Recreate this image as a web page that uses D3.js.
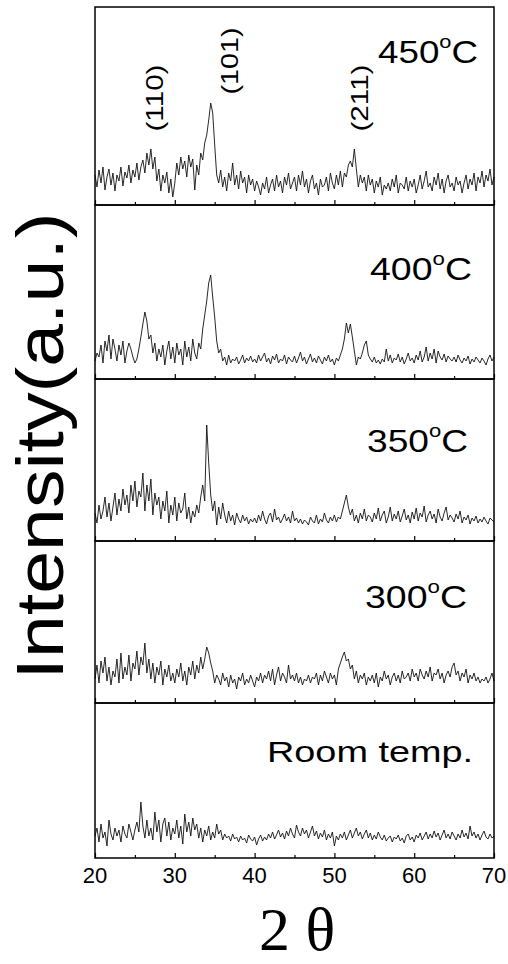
<!DOCTYPE html>
<html>
<head>
<meta charset="utf-8">
<script src="https://cdn.jsdelivr.net/npm/d3@7"></script>
<style>
  body { margin: 0; background: #fff; }
  svg { display: block; }
  text { font-family: "Liberation Sans", Arial, sans-serif; fill: #000; }
</style>
</head>
<body>
<svg id="chart" width="508" height="964"></svg>
<script>
// 2-theta sampling, 0.25 deg steps from 20 to 70
var thetaStart = 20, thetaStep = 0.25, thetaCount = 201;

// intensities (a.u.), one per step
var t450 = [
  30, 18, 35, 22, 38, 15, 28, 36, 20, 32, 14, 30, 24, 38, 19, 33, 27, 40, 22, 35,
  28, 42, 25, 38, 45, 32, 52, 40, 56, 36, 48, 24, 36, 14, 30, 22, 33, 12, 26, 8,
  22, 42, 30, 48, 36, 44, 28, 50, 38, 46, 15, 40, 30, 52, 45, 62, 70, 85, 102, 92,
  60, 30, 22, 35, 18, 28, 14, 32, 24, 42, 20, 30, 16, 34, 22, 28, 12, 30, 20, 26,
  14, 24, 18, 10, 22, 16, 28, 12, 20, 26, 14, 30, 18, 24, 12, 28, 20, 32, 16, 22,
  28, 14, 30, 20, 34, 18, 26, 12, 24, 30, 16, 22, 10, 26, 18, 20, 28, 14, 32, 22,
  16, 30, 20, 34, 18, 32, 28, 40, 44, 38, 56, 36, 18, 30, 22, 28, 14, 30, 20, 26,
  12, 24, 18, 28, 10, 20, 16, 22, 14, 26, 18, 30, 12, 22, 20, 16, 28, 14, 24, 18,
  26, 12, 20, 30, 16, 24, 34, 18, 22, 14, 28, 20, 32, 16, 26, 12, 24, 30, 18, 22,
  14, 28, 20, 24, 12, 22, 30, 16, 26, 20, 32, 14, 28, 22, 34, 18, 30, 24, 36, 20,
  28
]
var t400 = [
  18, 26, 22, 34, 16, 38, 28, 44, 20, 40, 30, 18, 34, 24, 38, 16, 28, 36, 30, 22,
  16, 20, 30, 42, 55, 67, 58, 40, 44, 26, 36, 18, 30, 22, 34, 14, 28, 38, 20, 32,
  16, 36, 24, 30, 14, 38, 22, 32, 18, 40, 26, 20, 36, 30, 50, 64, 78, 96, 104, 82,
  62, 38, 26, 30, 18, 22, 14, 24, 16, 20, 18, 22, 15, 19, 24, 16, 21, 18, 23, 17,
  20, 16, 24, 18, 22, 26, 17, 21, 15, 23, 19, 25, 16, 20, 18, 24, 15, 22, 19, 17,
  23, 16, 21, 27, 18, 22, 15, 20, 25, 17, 21, 16, 23, 19, 15, 22, 18, 24, 17, 20,
  14, 21, 18, 24, 30, 40, 56, 46, 55, 42, 28, 14, 22, 20, 26, 34, 38, 24, 20, 17,
  22, 16, 19, 15, 20, 17, 30, 18, 24, 16, 21, 19, 25, 17, 22, 15, 20, 26, 18, 21,
  16, 24, 19, 28, 17, 22, 32, 18, 26, 20, 30, 16, 28, 22, 19, 25, 17, 23, 20, 18,
  22, 17, 24, 19, 16, 21, 18, 23, 15, 20, 17, 22, 19, 16, 21, 18, 14, 20, 24, 18,
  22
]
var t350 = [
  28, 18, 36, 22, 30, 44, 24, 38, 20, 34, 48, 26, 42, 30, 52, 36, 46, 28, 56, 40,
  60, 34, 50, 44, 68, 30, 56, 40, 62, 26, 48, 36, 44, 22, 40, 30, 50, 18, 36, 26,
  44, 20, 38, 28, 32, 48, 22, 34, 18, 30, 24, 36, 28, 44, 56, 40, 116, 78, 46, 30,
  40, 16, 34, 22, 38, 26, 18, 30, 20, 26, 16, 28, 22, 18, 26, 20, 24, 17, 22, 19,
  23, 18, 26, 20, 30, 22, 17, 25, 28, 19, 32, 21, 24, 18, 22, 27, 20, 24, 18, 30,
  20, 23, 18, 22, 17, 21, 19, 16, 24, 20, 18, 26, 17, 22, 19, 28, 21, 18, 24, 20,
  26, 19, 24, 22, 30, 38, 46, 34, 26, 32, 20, 26, 18, 28, 22, 32, 20, 26, 24, 19,
  28, 22, 33, 20, 26, 30, 18, 24, 34, 20, 27, 22, 30, 19, 25, 32, 21, 26, 18, 29,
  22, 33, 20, 28, 24, 35, 19, 26, 30, 22, 27, 18, 32, 24, 20, 28, 34, 21, 26, 23,
  19, 27, 22, 30, 18, 24, 21, 26, 17, 23, 20, 25, 18, 22, 19, 24, 20, 17, 23, 21,
  19
]
var t300 = [
  24, 38, 20, 42, 30, 46, 22, 36, 18, 32, 26, 44, 20, 50, 24, 36, 28, 48, 22, 40,
  34, 52, 28, 46, 38, 60, 30, 44, 24, 40, 20, 36, 28, 42, 18, 34, 26, 38, 22, 30,
  20, 34, 26, 40, 22, 32, 18, 36, 28, 42, 24, 38, 30, 46, 34, 44, 56, 50, 40, 32,
  20, 28, 24, 18, 30, 22, 26, 16, 28, 20, 24, 14, 26, 22, 30, 18, 24, 20, 28, 22,
  16, 26, 22, 30, 20, 28, 24, 32, 22, 34, 18, 28, 36, 22, 30, 26, 20, 38, 24, 28,
  22, 30, 20, 26, 18, 24, 22, 28, 20, 26, 24, 30, 18, 28, 22, 32, 26, 20, 30, 24,
  28, 18, 34, 40, 46, 51, 42, 44, 34, 38, 24, 32, 20, 28, 24, 30, 18, 26, 22, 28,
  20, 30, 16, 26, 22, 32, 24, 28, 18, 26, 30, 22, 28, 20, 32, 24, 26, 30, 22, 34,
  26, 30, 22, 34, 28, 24, 32, 26, 36, 22, 30, 28, 34, 24, 30, 20, 28, 32, 26, 36,
  40, 28, 32, 22, 30, 26, 34, 20, 28, 24, 30, 22, 26, 20, 24, 22, 26, 20, 24, 30,
  22
]
var tRoom = [
  22, 30, 16, 34, 20, 26, 12, 38, 24, 18, 30, 22, 28, 16, 32, 24, 20, 34, 26, 18,
  28, 36, 26, 56, 32, 20, 38, 22, 30, 18, 46, 26, 38, 16, 34, 40, 22, 36, 18, 30,
  24, 38, 20, 32, 14, 44, 26, 36, 22, 40, 28, 34, 20, 30, 16, 28, 22, 32, 18, 26,
  20, 34, 24, 28, 18, 24, 20, 22, 17, 24, 19, 21, 16, 22, 18, 20, 15, 23, 19, 17,
  21, 13, 19, 23, 17, 21, 18, 24, 20, 26, 19, 23, 28, 21, 25, 19, 27, 22, 30, 24,
  20, 33, 26, 22, 30, 24, 28, 20, 26, 32, 22, 27, 19, 25, 21, 28, 18, 24, 20, 26,
  12, 22, 18, 24, 20, 26, 18, 23, 28, 20, 25, 30, 22, 26, 19, 24, 28, 20, 25, 18,
  23, 19, 26, 21, 18, 23, 17, 20, 22, 16, 21, 19, 23, 17, 20, 15, 22, 24, 18, 21,
  16, 23, 20, 25, 18, 22, 26, 19, 24, 20, 27, 21, 25, 18, 23, 28, 20, 24, 19, 26,
  22, 18, 24, 20, 28, 21, 25, 19, 32, 22, 26, 20, 24, 18, 23, 27, 21, 19, 24, 20,
  22
]

var series = [t450, t400, t350, t300, tRoom]
var tempLabels = ["450", "400", "350", "300", "Room temp."]
var peakLabels = ["(110)", "(101)", "(211)"]
var majorTicks = [20, 30, 40, 50, 60, 70]
var minorTicks = [25, 35, 45, 55, 65]

var svg = d3.select("#chart")
var theta = d3.range(thetaCount).map(i => thetaStart + i * thetaStep)

// panel edges top to bottom (the stacked frames are not all the same height)
var edges = [7, 205, 379, 541, 703, 858]
var xScale = d3.scaleLinear().domain([20, 70]).range([95, 494])

// where the temperature text sits: right end, baseline, width
var labelPos = [[478, 63, 100], [472, 280, 102], [468, 452, 101], [467, 608, 102], [473, 762, 206]]
// miller index labels: baseline x, centre y
var peakPos = [[163, 98], [238, 61], [368, 98]]

series.forEach(function(vals, p) {
    var top = edges[p], bottom = edges[p + 1]
    var yScale = d3.scaleLinear().domain([0, bottom - top]).range([bottom, top])

    var g = svg.append("g").attr("class", "panel")

    g.append("path")
        .datum(vals)
        .attr("fill", "none")
        .attr("stroke", "#111")
        .attr("stroke-width", 0.9)
        .attr("stroke-linejoin", "round")
        .attr("d", d3.line()
            .x((d, i) => xScale(theta[i]))
            .y(d => yScale(d)))

    // inward ticks on the bottom edge
    var major = d3.axisBottom(xScale).tickValues(majorTicks)
        .tickSizeInner(-5).tickSizeOuter(0).tickFormat("")
    var minor = d3.axisBottom(xScale).tickValues(minorTicks)
        .tickSizeInner(-3).tickSizeOuter(0).tickFormat("")
    g.append("g").attr("transform", "translate(0," + bottom + ")").call(major)
    g.append("g").attr("transform", "translate(0," + bottom + ")").call(minor)
    g.selectAll(".domain").remove()
    g.selectAll(".tick line").attr("stroke", "#000").attr("stroke-width", 1.2)

    g.append("rect")
        .attr("x", xScale(20)).attr("y", top)
        .attr("width", xScale(70) - xScale(20)).attr("height", bottom - top)
        .attr("fill", "none").attr("stroke", "#000").attr("stroke-width", 1.5)

    var lp = labelPos[p]
    var t = g.append("text")
        .attr("x", lp[0]).attr("y", lp[1])
        .attr("text-anchor", "end")
        .attr("font-size", 32)
        .attr("textLength", lp[2])
        .attr("lengthAdjust", "spacingAndGlyphs")
    if (p < 4) {
        t.append("tspan").text(tempLabels[p])
        t.append("tspan").attr("font-size", 19).attr("dy", -15).text("o")
        t.append("tspan").attr("dy", 15).text("C")
    } else {
        t.attr("font-size", 30).text(tempLabels[p])
    }
})

// miller indices over the 450 C pattern
peakLabels.forEach(function(s, i) {
    svg.append("text")
        .attr("transform", "translate(" + peakPos[i][0] + "," + peakPos[i][1] + ") rotate(-90)")
        .attr("text-anchor", "middle")
        .attr("font-size", 24)
        .attr("textLength", 67)
        .attr("lengthAdjust", "spacingAndGlyphs")
        .text(s)
})

// x tick labels under the last panel
svg.append("g").selectAll("text")
    .data(majorTicks)
    .enter()
    .append("text")
    .attr("x", d => xScale(d))
    .attr("y", 883)
    .attr("text-anchor", "middle")
    .attr("font-size", 22)
    .text(d => d)

svg.append("text")
    .attr("transform", "translate(63,446) rotate(-90)")
    .attr("text-anchor", "middle")
    .attr("font-size", 66)
    .attr("textLength", 467)
    .attr("lengthAdjust", "spacingAndGlyphs")
    .text("Intensity(a.u.)")

svg.append("text")
    .attr("x", 297).attr("y", 950)
    .attr("text-anchor", "middle")
    .style("font-family", "'Liberation Serif', 'Times New Roman', serif")
    .attr("font-size", 62)
    .text("2 \u03b8")
</script>
</body>
</html>
